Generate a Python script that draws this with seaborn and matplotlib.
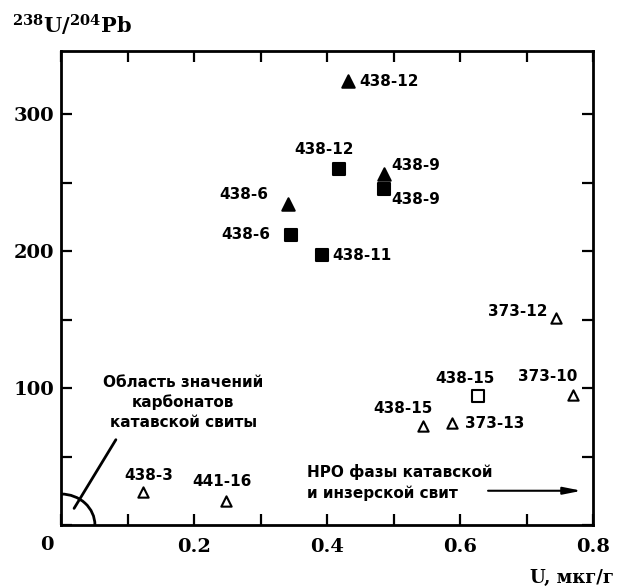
import matplotlib
matplotlib.use("Agg")
import matplotlib.pyplot as plt
from matplotlib.patches import Arc
from matplotlib.ticker import MultipleLocator
import seaborn as sns
import pandas as pd

# filled triangles
tri_x = [0.431, 0.485, 0.342]
tri_y = [324, 256, 234]
tri_labels = ["438-12", "438-9", "438-6"]

# filled squares
sq_x = [0.418, 0.485, 0.392, 0.346]
sq_y = [260, 245, 197, 212]
sq_labels = ["438-12", "438-9", "438-11", "438-6"]

# open triangles
otri_x = [0.744, 0.770, 0.545, 0.588, 0.124, 0.248]
otri_y = [151, 95, 72.5, 74.5, 24, 17.7]
otri_labels = ["373-12", "373-10", "438-15", "373-13", "438-3", "441-16"]

# open squares
osq_x = [0.627]
osq_y = [94.5]
osq_labels = ["438-15"]

# label offsets in pixels (dx, dy, ha)
tri_off = [(12, 0, "left"), (8, 9, "left"), (-20, 10, "right")]
sq_off = [(-15, 19, "center"), (8, -10, "left"), (11, 0, "left"), (-21, 0, "right")]
otri_off = [(-8, 7, "right"), (-25, 18, "center"), (-20, 17, "center"),
            (13, -1, "left"), (5, 17, "center"), (-4, 19, "center")]
osq_off = [(-13, 17, "center")]

sns.set_theme(style="ticks")
plt.rcParams["font.family"] = ["DejaVu Serif"]
plt.rcParams["mathtext.fontset"] = "custom"
plt.rcParams["mathtext.rm"] = "DejaVu Serif:bold"
plt.rcParams["mathtext.default"] = "rm"
for key in ["text.color", "axes.labelcolor", "xtick.color", "ytick.color",
            "axes.edgecolor"]:
    plt.rcParams[key] = "black"

SANS = ["DejaVu Sans"]

fig = plt.figure(figsize=(6.22, 5.87), dpi=100)
ax = fig.add_axes([61 / 622, 62 / 587, 532 / 622, 474 / 587])

groups = [
    (tri_x, tri_y, tri_labels, tri_off, "^", "black", 80),
    (sq_x, sq_y, sq_labels, sq_off, "s", "black", 75),
    (otri_x, otri_y, otri_labels, otri_off, "^", "white", 55),
    (osq_x, osq_y, osq_labels, osq_off, "s", "white", 70),
]

for xs, ys, labels, offs, marker, face, size in groups:
    df = pd.DataFrame({"x": xs, "y": ys})
    sns.scatterplot(data=df, x="x", y="y", marker=marker, s=size,
                    color=face, edgecolor="black", linewidth=1.5, ax=ax,
                    zorder=3)
    for x, y, lab, (dx, dy, ha) in zip(xs, ys, labels, offs):
        ax.annotate(lab, (x, y), xytext=(dx, dy), textcoords="offset pixels",
                    ha=ha, va="center", fontsize=11, fontweight="bold",
                    family=SANS)

ax.set_xlim(0, 0.8)
ax.set_ylim(0, 346)

ax.xaxis.set_minor_locator(MultipleLocator(0.1))
ax.yaxis.set_minor_locator(MultipleLocator(50))
ax.set_xticks([0.2, 0.4, 0.6, 0.8])
ax.set_xticklabels(["0.2", "0.4", "0.6", "0.8"])
ax.set_yticks([100, 200, 300])
ax.set_yticklabels(["100", "200", "300"])
ax.tick_params(which="both", direction="in", top=True, right=True,
               length=8, width=1.6, labelsize=14)
ax.tick_params(axis="x", pad=9)
ax.tick_params(axis="y", pad=5)
for lab in ax.get_xticklabels() + ax.get_yticklabels():
    lab.set_fontweight("bold")
for sp in ax.spines.values():
    sp.set_linewidth(2)

ax.annotate("0", (0, 0), xytext=(-14, -20), textcoords="offset pixels",
            ha="center", va="center", fontsize=14, fontweight="bold")

ax.set_xlabel("U, мкг/г", fontsize=13, fontweight="bold")
ax.xaxis.label.set_ha("right")
ax.xaxis.label.set_va("center")
ax.xaxis.set_label_coords(1.04, -0.112)
ax.set_ylabel("$^{238}$U/$^{204}$Pb", rotation=0, ha="left", va="center",
              fontsize=15, fontweight="bold")
ax.yaxis.set_label_coords(-0.092, 1.055)

# carbonate region
ax.add_patch(Arc((0, 0), 2 * 0.051, 2 * 22.6, theta1=0, theta2=90,
                 lw=2, color="black"))
ax.annotate("", xy=(0.0175, 10.4), xytext=(0.0847, 64),
            arrowprops=dict(arrowstyle="-", lw=2, color="black"))
ax.text(0.184, 89.5, "Область значений\nкарбонатов\nкатавской свиты",
        ha="center", va="center", fontsize=11, fontweight="bold",
        linespacing=1.4, family=SANS)

ax.text(0.3696, 31, "НРО фазы катавской\nи инзерской свит", ha="left",
        va="center", fontsize=11, fontweight="bold", linespacing=1.4,
        family=SANS)
ax.annotate("", xy=(0.787, 25), xytext=(0.638, 25),
            arrowprops=dict(arrowstyle="-|>,head_width=0.18,head_length=0.9",
                            lw=1.5, color="black"))

fig.savefig("out.png", dpi=100)
